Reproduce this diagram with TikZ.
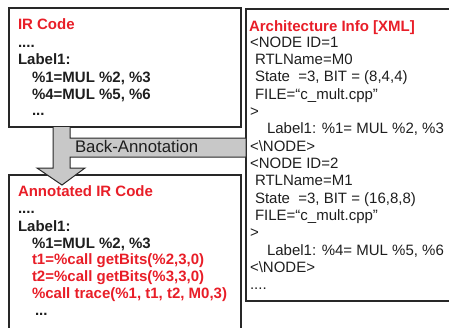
\documentclass[tikz,border=0pt]{standalone}
\usepackage{fontspec}
\setmainfont{Liberation Sans}
\usetikzlibrary{calc}
\definecolor{irred}{RGB}{232,30,40}
\definecolor{lin}{RGB}{40,40,40}
\definecolor{txtc}{RGB}{30,30,30}
\definecolor{arrowgray}{RGB}{200,200,200}
\tikzset{
  box/.style={draw=lin,line width=1.3pt,anchor=north west,inner sep=0pt,outer sep=0pt},
  bt/.style={anchor=base west,inner sep=0pt,outer sep=0pt,text=txtc,
    font=\fontsize{15}{17}\selectfont\bfseries},
  btred/.style={bt,text=irred},
  rt/.style={anchor=base west,inner sep=0pt,outer sep=0pt,text=txtc,
    font=\fontsize{15}{17}\selectfont},
  arrowshape/.style={draw=lin,line width=1pt,fill=arrowgray},
}
\begin{document}
\begin{tikzpicture}[x=1pt,y=-1pt]
\useasboundingbox (0,0) rectangle (449,327);
\clip (0,0) rectangle (449,327);

% boxes
\node[box,minimum width=232pt,minimum height=119pt] (ir) at (9,8) {};
\node[box,minimum width=205pt,minimum height=292pt] (arch) at (246,9) {};
\node[box,minimum width=232pt,minimum height=170pt] (ann) at (9,175) {};

% back-annotation arrow
\coordinate (sl) at ($(ir.south west)+(44,0)$);
\coordinate (sr) at ($(ir.south west)+(61,0)$);
\draw[arrowshape] (sl) -- ++(0,41) -- ++(-16,0) -- ++(25,17) -- ++(23,-17)
  -- ++(-15,0) -- ++(0,-11) -- ($(arch.west|-0,157)$) -- ($(arch.west|-0,138)$)
  -- ($(sr|-0,138)$) -- (sr);
\node[rt,font=\fontsize{16.8}{18}\selectfont] (ba) at (75,152.5) {Back-Annotation};

% IR code
\node[btred] (h1) at (18,29) {IR Code};
\node[bt] (a1) at (18,47) {....};
\node[bt] (a2) at (18,64) {Label1:};
\node[bt] (a3) at (32,82) {\%1=MUL \%2, \%3};
\node[bt] (a4) at (32,99) {\%4=MUL \%5, \%6};
\node[bt] (a5) at (32,115) {...};

% Annotated IR code
\node[btred] (h2) at (18,196) {Annotated IR Code};
\node[bt] (b1) at (18,213) {....};
\node[bt] (b2) at (18,231) {Label1:};
\node[bt] (b3) at (32,248) {\%1=MUL \%2, \%3};
\node[btred] (b4) at (32,264.5) {t1=\%call getBits(\%2,3,0)};
\node[btred] (b5) at (32,281.5) {t2=\%call getBits(\%3,3,0)};
\node[btred] (b6) at (32,298.5) {\%call trace(\%1, t1, t2, M0,3)};
\node[bt] (b7) at (35,315) {...};

% Architecture info
\node[btred] (h3) at (249,31) {Architecture Info [XML]};
\def\ls{17.35}
\node[rt] (c0) at (250,47+0*\ls) {<NODE ID=1};
\node[rt] (c1) at (255,47+1*\ls) {RTLName=M0};
\node[rt] (c2) at (255,47+2*\ls) {State\ \ =3, BIT = (8,4,4)};
\node[rt] (c3) at (255,47+3*\ls) {FILE=“c\_mult.cpp”};
\node[rt] (c4) at (250,47+4*\ls) {>};
\node[rt] (c5) at (267,47+5*\ls) {Label1: \%1= MUL \%2, \%3};
\node[rt] (c6) at (250,47+6*\ls) {<\textbackslash NODE>};
\node[rt] (c7) at (250,47+7*\ls) {<NODE ID=2};
\node[rt] (c8) at (255,47+8*\ls) {RTLName=M1};
\node[rt] (c9) at (255,47+9*\ls) {State\ \ =3, BIT = (16,8,8)};
\node[rt] (c10) at (255,47+10*\ls) {FILE=“c\_mult.cpp”};
\node[rt] (c11) at (250,47+11*\ls) {>};
\node[rt] (c12) at (267,47+12*\ls) {Label1: \%4= MUL \%5, \%6};
\node[rt] (c13) at (250,47+13*\ls) {<\textbackslash NODE>};
\node[rt] (c14) at (250,47+14*\ls) {....};
\end{tikzpicture}
\end{document}
